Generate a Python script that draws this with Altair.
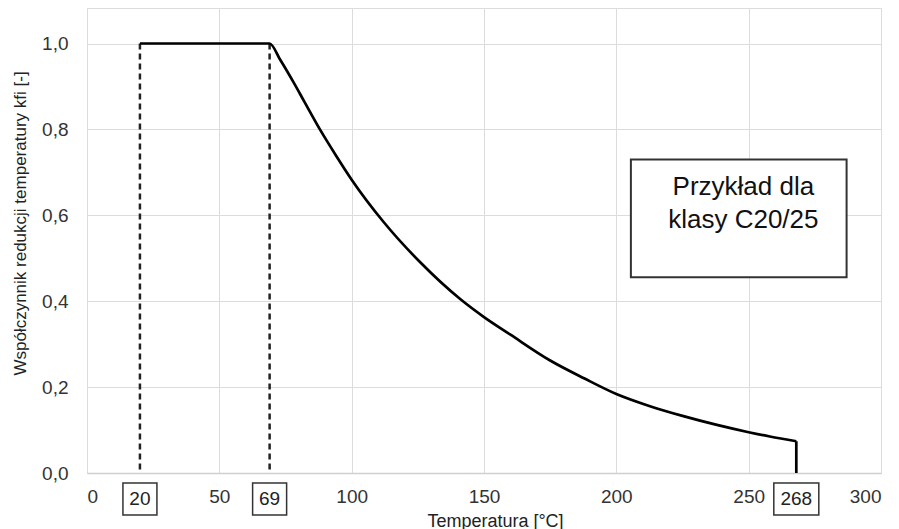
import altair as alt
import pandas as pd

# curve
temp = [20, 69, 73, 78, 82, 88, 94, 100, 112, 126, 141, 150, 160, 175, 188, 200, 213, 225, 238, 250, 258, 268]
kfi = [1.0, 1.0, 0.962, 0.910, 0.866, 0.80, 0.74, 0.683, 0.585, 0.490, 0.405, 0.363, 0.322, 0.262,
       0.220, 0.184, 0.155, 0.133, 0.112, 0.095, 0.085, 0.074]

# vertical drop at the end of the curve
drop_temp = [268]
drop_from = [0.074]
drop_to = [0.0]

x_ticks = [0, 50, 100, 150, 200, 250, 300]
y_ticks = [0.0, 0.2, 0.4, 0.6, 0.8, 1.0]

dashed_temps = [20, 69]
dashed_top = [1.0, 1.0]

marked_temps = [20, 69, 268]
marked_labels = ["20", "69", "268"]

note_lines = ["Przykład dla", "klasy C20/25"]
note_line_y = [0.665, 0.588]
note_x = [248, 248]
note_box_x = [205.5, 287]
note_box_y = [0.456, 0.730]

FONT = "Liberation Sans"

curve_df = pd.DataFrame({"T": temp, "k": kfi})
drop_df = pd.DataFrame({"T": drop_temp, "k": drop_from, "k0": drop_to})
dash_df = pd.DataFrame({"T": dashed_temps, "top": dashed_top})
mark_df = pd.DataFrame({"T": marked_temps, "label": marked_labels})
mark_df["n"] = mark_df["label"].str.len()
note_df = pd.DataFrame({"line": note_lines, "y": note_line_y, "x": note_x})
box_df = pd.DataFrame({"x": [note_box_x[0]], "x2": [note_box_x[1]],
                       "y": [note_box_y[0]], "y2": [note_box_y[1]]})

xscale = alt.Scale(domain=[0, 300], nice=False, zero=False)
yscale = alt.Scale(domain=[0, 1.0827], nice=False)

x_axis = alt.Axis(values=x_ticks, grid=True, gridColor="#dcdcdc", gridWidth=1,
                  domain=True, domainColor="#d0d0d0", domainWidth=1.5, ticks=False,
                  labelFontSize=19, labelColor="#333333", labelPadding=23,
                  labelBaseline="middle", labelFont=FONT,
                  titleFontSize=18, titleFontWeight="normal", titleColor="#222222",
                  titleFont=FONT, titleX=408, titleY=53, titleBaseline="alphabetic",
                  titleAnchor="start", titleAlign="center")
y_axis = alt.Axis(values=y_ticks, grid=True, gridColor="#dcdcdc", gridWidth=1,
                  domain=False, ticks=False,
                  labelExpr="replace(format(datum.value, '.1f'), '.', ',')",
                  labelFontSize=19, labelColor="#333333", labelPadding=19, labelFont=FONT,
                  titleFontSize=17, titleFontWeight="normal", titleColor="#222222",
                  titleFont=FONT, titleX=-67, titleY=215, titleAngle=270,
                  titleAlign="center", titleBaseline="middle", titleAnchor="start")

line = alt.Chart(curve_df).mark_line(color="black", strokeWidth=2.7, interpolate="monotone").encode(
    x=alt.X("T:Q", scale=xscale, axis=x_axis, title="Temperatura [°C]"),
    y=alt.Y("k:Q", scale=yscale, axis=y_axis,
            title="Współczynnik redukcji temperatury kfi [-]"),
)

drop = alt.Chart(drop_df).mark_rule(color="black", strokeWidth=2.7).encode(
    x=alt.X("T:Q", scale=xscale),
    y=alt.Y("k:Q", scale=yscale),
    y2="k0:Q",
)

dashed = alt.Chart(dash_df).mark_rule(color="#222222", strokeWidth=2.5, strokeDash=[6, 4]).encode(
    x=alt.X("T:Q", scale=xscale),
    y=alt.Y("top:Q", scale=yscale),
    y2=alt.datum(0),
)

note_box = alt.Chart(box_df).mark_rect(fill="white", stroke="#333333", strokeWidth=2).encode(
    x=alt.X("x:Q", scale=xscale), x2="x2:Q",
    y=alt.Y("y:Q", scale=yscale), y2="y2:Q",
)

note_text = alt.Chart(note_df).mark_text(fontSize=26, font=FONT, color="#111111",
                                         baseline="middle", align="center").encode(
    x=alt.X("x:Q", scale=xscale),
    y=alt.Y("y:Q", scale=yscale),
    text="line:N",
)

short_boxes = alt.Chart(mark_df).transform_filter("datum.n <= 2").mark_rect(
    fill="white", stroke="#333333", strokeWidth=1.5, width=34, height=32, yOffset=26).encode(
    x=alt.X("T:Q", scale=xscale),
    y=alt.Y("base:Q", scale=yscale),
).transform_calculate(base="0")

long_boxes = alt.Chart(mark_df).transform_filter("datum.n > 2").mark_rect(
    fill="white", stroke="#333333", strokeWidth=1.5, width=45, height=32, yOffset=26).encode(
    x=alt.X("T:Q", scale=xscale),
    y=alt.Y("base:Q", scale=yscale),
).transform_calculate(base="0")

box_labels = alt.Chart(mark_df).mark_text(fontSize=19, font=FONT, color="#222222",
                                           baseline="middle", dy=26).encode(
    x=alt.X("T:Q", scale=xscale),
    y=alt.Y("base:Q", scale=yscale),
    text="label:N",
).transform_calculate(base="0")

chart = alt.layer(note_box, note_text, dashed, line, drop, short_boxes, long_boxes, box_labels).properties(
    width=794, height=465,
    autosize=alt.AutoSizeParams(type="none"),
    padding={"left": 79, "top": 0, "right": 10, "bottom": 56},
    background="white",
).configure_view(strokeOpacity=0).configure(font=FONT)

chart.save("out.html", embed_options={"renderer": "svg", "actions": False})
